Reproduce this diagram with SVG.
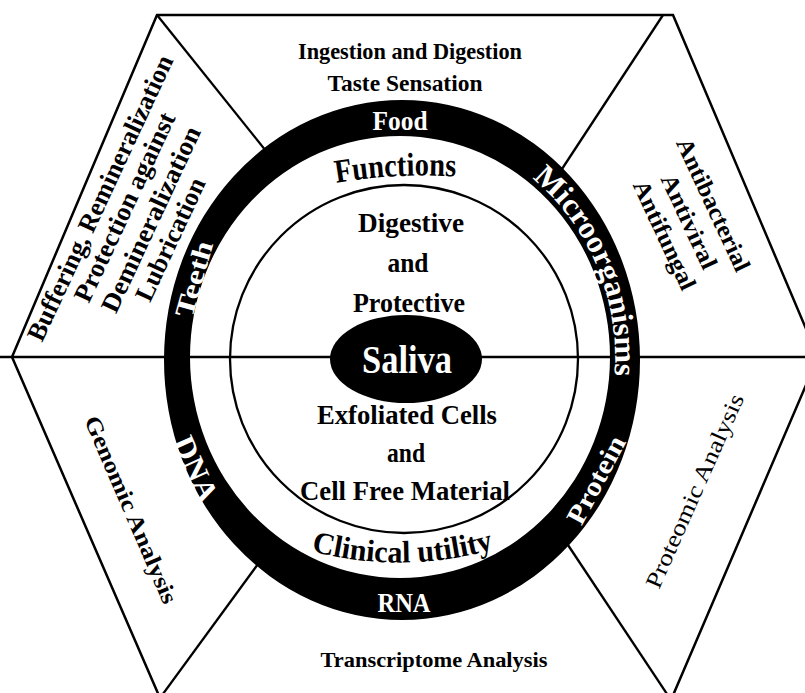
<svg xmlns="http://www.w3.org/2000/svg" width="805" height="693" viewBox="0 0 805 693">
<style>
.t{font-family:"Liberation Serif","Times New Roman",serif;font-weight:bold;fill:#000}
.w{font-family:"Liberation Serif","Times New Roman",serif;font-weight:bold;fill:#fff}
.n{font-family:"Liberation Serif","Times New Roman",serif;font-weight:normal;fill:#000}
.ln{stroke:#000;stroke-width:2.3;fill:none}
</style>
<defs>
<path id="pFunc" d="M 330,184 Q 396,172 462,177"/>
<path id="pClin" d="M 300,548 Q 402,578 505,546"/>
<path id="pMicro" d="M 520.7,169.8 A 214 227 0 0 1 612.9,389.6"/>
</defs>
<rect width="805" height="693" fill="#fff"/>
<g id="hexagon">
<polygon points="157,15 673,15 818,357 671,700 160,698 12,357" fill="#fff" stroke="#000" stroke-width="2.5"/>
</g>
<g id="connectors" class="ln">
<line x1="157" y1="15" x2="270" y2="156"/>
<line x1="663" y1="15" x2="560" y2="172"/>
<line x1="0" y1="357" x2="805" y2="357"/>
<line x1="258" y1="564" x2="160" y2="698"/>
<line x1="566" y1="542" x2="671" y2="700"/>
</g>
<g id="ring">
<path fill="#000" fill-rule="evenodd" d="M 164,360 A 238 260 0 1 0 640,360 A 238 260 0 1 0 164,360 Z M 190,357 A 210 221 0 1 0 610,357 A 210 221 0 1 0 190,357 Z"/>
<text class="w" x="400" y="130" font-size="27" text-anchor="middle" textLength="55" lengthAdjust="spacingAndGlyphs">Food</text>
<text class="w" x="404" y="612" font-size="27" text-anchor="middle" textLength="53" lengthAdjust="spacingAndGlyphs">RNA</text>
<text class="w" font-size="31"><textPath href="#pMicro" startOffset="50%" text-anchor="middle" textLength="222" lengthAdjust="spacingAndGlyphs">Microorganisms</textPath></text>
<g transform="translate(194,279) rotate(-74)"><text class="w" x="0" y="9" font-size="27" text-anchor="middle" textLength="78" lengthAdjust="spacingAndGlyphs">Teeth</text></g>
<g transform="translate(196,469) rotate(66)"><text class="w" x="0" y="10" font-size="30" text-anchor="middle" textLength="69" lengthAdjust="spacingAndGlyphs">DNA</text></g>
<g transform="translate(596,480) rotate(-62)"><text class="w" x="0" y="9" font-size="27" text-anchor="middle" textLength="96" lengthAdjust="spacingAndGlyphs">Protein</text></g>
</g>
<g id="inner-circle">
<circle cx="404" cy="359" r="174" class="ln"/>
</g>
<g id="saliva">
<ellipse cx="406" cy="359" rx="76" ry="44" fill="#000"/>
<text class="w" x="407" y="373" font-size="40" text-anchor="middle" textLength="90" lengthAdjust="spacingAndGlyphs">Saliva</text>
</g>
<g id="functions">
<text class="t" font-size="33"><textPath href="#pFunc" startOffset="50%" text-anchor="middle" textLength="120" lengthAdjust="spacingAndGlyphs">Functions</textPath></text>
<text class="t" x="411" y="232" font-size="27" text-anchor="middle" textLength="106" lengthAdjust="spacingAndGlyphs">Digestive</text>
<text class="t" x="408" y="272" font-size="27" text-anchor="middle" textLength="41" lengthAdjust="spacingAndGlyphs">and</text>
<text class="t" x="409" y="312" font-size="27" text-anchor="middle" textLength="112" lengthAdjust="spacingAndGlyphs">Protective</text>
</g>
<g id="clinical-utility">
<text class="t" x="407" y="424" font-size="27" text-anchor="middle" textLength="180" lengthAdjust="spacingAndGlyphs">Exfoliated Cells</text>
<text class="t" x="406" y="462" font-size="27" text-anchor="middle" textLength="38" lengthAdjust="spacingAndGlyphs">and</text>
<text class="t" x="405" y="500" font-size="27" text-anchor="middle" textLength="210" lengthAdjust="spacingAndGlyphs">Cell Free Material</text>
<text class="t" font-size="31"><textPath href="#pClin" startOffset="50%" text-anchor="middle" textLength="185" lengthAdjust="spacingAndGlyphs">Clinical utility</textPath></text>
</g>
<g id="food-sector">
<text class="t" x="410" y="59" font-size="23" text-anchor="middle" textLength="224" lengthAdjust="spacingAndGlyphs">Ingestion and Digestion</text>
<text class="t" x="405" y="91" font-size="23" text-anchor="middle" textLength="155" lengthAdjust="spacingAndGlyphs">Taste Sensation</text>
</g>
<g id="teeth-sector" transform="rotate(-65)">
<text class="t" x="-137" y="183" font-size="26" text-anchor="middle" textLength="312" lengthAdjust="spacingAndGlyphs">Buffering, Remineralization</text>
<text class="t" x="-135" y="209" font-size="26" text-anchor="middle" textLength="206" lengthAdjust="spacingAndGlyphs">Protection against</text>
<text class="t" x="-135" y="238" font-size="26" text-anchor="middle" textLength="202" lengthAdjust="spacingAndGlyphs">Demineralization</text>
<text class="t" x="-145" y="264" font-size="26" text-anchor="middle" textLength="133" lengthAdjust="spacingAndGlyphs">Lubrication</text>
</g>
<g id="microorganisms-sector" transform="rotate(65)">
<text class="t" x="487" y="-552" font-size="24" text-anchor="middle" textLength="144" lengthAdjust="spacingAndGlyphs">Antibacterial</text>
<text class="t" x="492" y="-523" font-size="24" text-anchor="middle" textLength="102" lengthAdjust="spacingAndGlyphs">Antiviral</text>
<text class="t" x="494" y="-495" font-size="24" text-anchor="middle" textLength="118" lengthAdjust="spacingAndGlyphs">Antifungal</text>
</g>
<g id="dna-sector" transform="rotate(66.7)">
<text class="t" x="520" y="89" font-size="23" text-anchor="middle" textLength="202" lengthAdjust="spacingAndGlyphs">Genomic Analysis</text>
</g>
<g id="protein-sector" transform="rotate(-66)">
<text class="n" x="-166" y="842" font-size="23" text-anchor="middle" textLength="210" lengthAdjust="spacingAndGlyphs">Proteomic Analysis</text>
</g>
<g id="rna-sector">
<text class="t" x="434" y="667" font-size="22" text-anchor="middle" textLength="227" lengthAdjust="spacingAndGlyphs">Transcriptome Analysis</text>
</g>
</svg>
